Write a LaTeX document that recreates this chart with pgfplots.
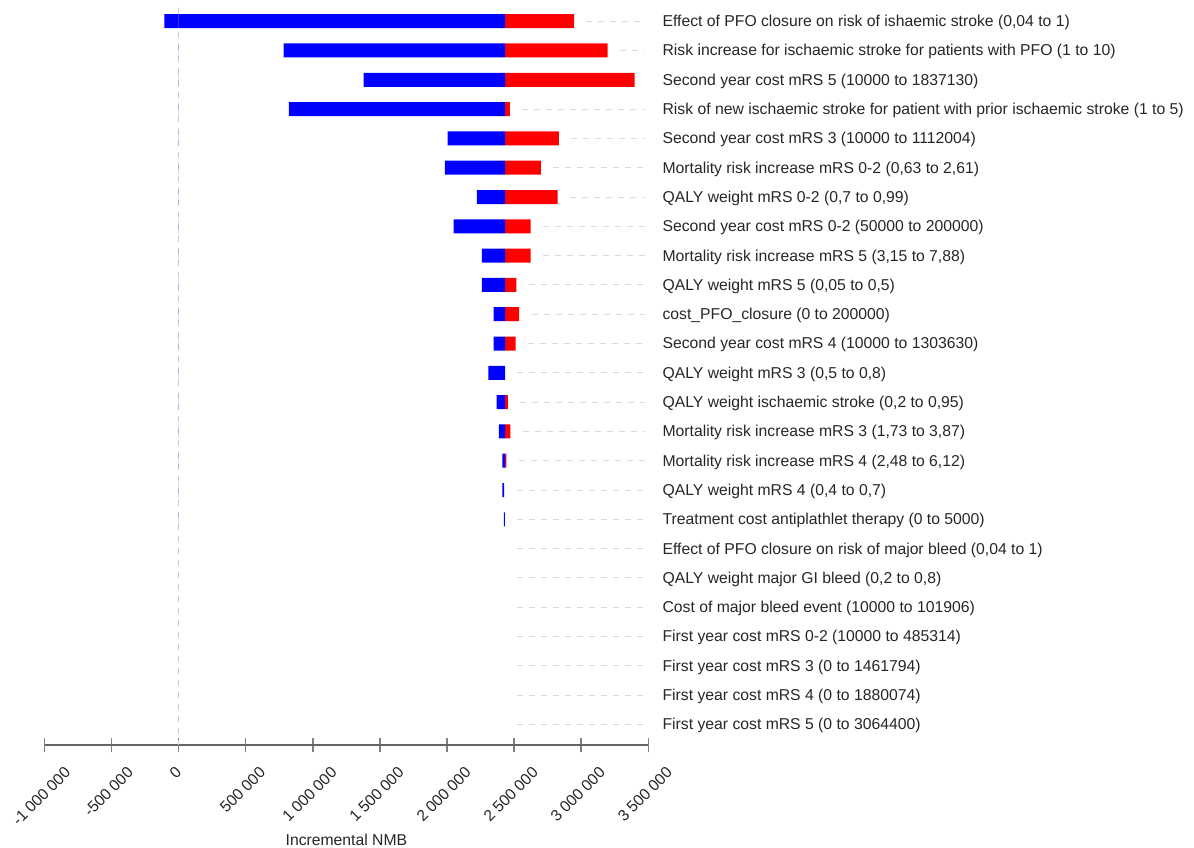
\documentclass[border=0pt]{standalone}
\usepackage{fontspec}
\setmainfont{Liberation Sans}
\usepackage{pgfplots}
\pgfplotsset{compat=1.18}
\usepackage{pgfplotstable}

\newcommand\chartfont{\fontsize{11.8}{13.5}\selectfont}

% tornado bars: blue from lo to mid, red from mid to hi
\pgfplotstableread{
y  lo       mid      hi
24 -107000  2433000  2947000
23 782000   2433000  3198000
22 1378000  2433000  3398000
21 821000   2433000  2469000
20 2004000  2433000  2834000
19 1984000  2433000  2700000
18 2223000  2433000  2824000
17 2049000  2433000  2623000
16 2260000  2433000  2623000
15 2260000  2433000  2518000
14 2347000  2433000  2538000
13 2347000  2433000  2511000
12 2309000  2433000  2433000
11 2369000  2433000  2453000
10 2386000  2433000  2473000
9  2413000  2433000  2443000
8  2413000  2425000  2425000
7  2424000  2432000  2432000
}\bars

% dashed leader lines towards the labels
\pgfplotstableread{
x       y
3039000 24
3478000 24
nan     nan
3290000 23
3478000 23
nan     nan
2561000 21
3478000 21
nan     nan
2926000 20
3478000 20
nan     nan
2792000 19
3478000 19
nan     nan
2916000 18
3478000 18
nan     nan
2715000 17
3478000 17
nan     nan
2715000 16
3478000 16
nan     nan
2610000 15
3478000 15
nan     nan
2630000 14
3478000 14
nan     nan
2603000 13
3478000 13
nan     nan
2525000 12
3478000 12
nan     nan
2545000 11
3478000 11
nan     nan
2565000 10
3478000 10
nan     nan
2535000 9
3478000 9
nan     nan
2525000 8
3478000 8
nan     nan
2525000 7
3478000 7
nan     nan
2525000 6
3478000 6
nan     nan
2525000 5
3478000 5
nan     nan
2525000 4
3478000 4
nan     nan
2525000 3
3478000 3
nan     nan
2525000 2
3478000 2
nan     nan
2525000 1
3478000 1
nan     nan
2525000 0
3478000 0
}\leaders

\begin{document}
\begin{tikzpicture}
\useasboundingbox (0,0) rectangle (895.5pt,636pt);
\begin{axis}[
    at={(33.45pt,77.25pt)}, anchor=south west,
    scale only axis,
    width=452.7pt, height=552.75pt,
    xmin=-1000000, xmax=3500000,
    ymin=-0.7, ymax=24.45,
    xbar stacked,
    bar width=10.5pt,
    axis x line=bottom, axis y line=right,
    x axis line style={-, draw=black!60, line width=1.5pt},
    y axis line style={draw=none},
    xtick={-1000000,-500000,0,500000,1000000,1500000,2000000,2500000,3000000,3500000},
    scaled x ticks=false,
    /pgf/number format/.cd, fixed, precision=0, 1000 sep={\hspace{0.25em}}, assume math mode=true,
    /pgfplots/.cd,
    xticklabel={\rotatebox{45}{\pgfmathprintnumber{\tick}}},
    xticklabel style={anchor=north, inner sep=0pt, yshift=-10pt, xshift=-2.5pt, font=\chartfont, text=black!85},
    tick align=center,
    major tick length=11pt,
    xtick style={draw=black!50, line width=1pt},
    ytick={0,...,24},
    ytick style={draw=none},
    yticklabels={
        {First year cost mRS 5 (0 to 3064400)},
        {First year cost mRS 4 (0 to 1880074)},
        {First year cost mRS 3 (0 to 1461794)},
        {First year cost mRS 0-2 (10000 to 485314)},
        {Cost of major bleed event (10000 to 101906)},
        {QALY weight major GI bleed (0,2 to 0,8)},
        {Effect of PFO closure on risk of major bleed (0,04 to 1)},
        {Treatment cost antiplathlet therapy (0 to 5000)},
        {QALY weight mRS 4 (0,4 to 0,7)},
        {Mortality risk increase mRS 4 (2,48 to 6,12)},
        {Mortality risk increase mRS 3 (1,73 to 3,87)},
        {QALY weight ischaemic stroke (0,2 to 0,95)},
        {QALY weight mRS 3 (0,5 to 0,8)},
        {Second year cost mRS 4 (10000 to 1303630)},
        {cost\_PFO\_closure (0 to 200000)},
        {QALY weight mRS 5 (0,05 to 0,5)},
        {Mortality risk increase mRS 5 (3,15 to 7,88)},
        {Second year cost mRS 0-2 (50000 to 200000)},
        {QALY weight mRS 0-2 (0,7 to 0,99)},
        {Mortality risk increase mRS 0-2 (0,63 to 2,61)},
        {Second year cost mRS 3 (10000 to 1112004)},
        {Risk of new ischaemic stroke for patient with prior ischaemic stroke (1 to 5)},
        {Second year cost mRS 5 (10000 to 1837130)},
        {Risk increase for ischaemic stroke for patients with PFO (1 to 10)},
        {Effect of PFO closure on risk of ishaemic stroke (0,04 to 1)}
    },
    yticklabel style={anchor=west, inner sep=0pt, xshift=5.1pt, yshift=-1pt, font=\chartfont, text=black!85},
    xlabel={Incremental NMB},
    xlabel style={at={(axis description cs:0.5,0)}, anchor=center, yshift=-71pt, font=\chartfont, text=black!85},
    clip=false,
]

% stacked part: invisible offset, blue (low) and red (high)
\addplot[draw=none, fill=none] table[x expr={max(\thisrow{lo},0)}, y=y]{\bars};
\addplot[draw=none, fill=blue] table[x expr={\thisrow{mid}-max(\thisrow{lo},0)}, y=y]{\bars};
\addplot[draw=none, fill=red] table[x expr={\thisrow{hi}-\thisrow{mid}}, y=y]{\bars};
% part of a blue bar that lies below zero
\addplot[xbar, stack plots=false, draw=none, fill=blue] table[x expr={min(\thisrow{lo},0)}, y=y]{\bars};

\addplot[sharp plot, stack plots=false, draw=black!20, line width=0.75pt,
    dash pattern=on 4.5pt off 4.5pt] coordinates {(0,24.45) (0,-0.7)};

\addplot[sharp plot, stack plots=false, unbounded coords=jump, draw=black!14,
    line width=0.75pt, dash pattern=on 4.5pt off 4.5pt] table[x=x, y=y]{\leaders};

\end{axis}
\end{tikzpicture}
\end{document}
